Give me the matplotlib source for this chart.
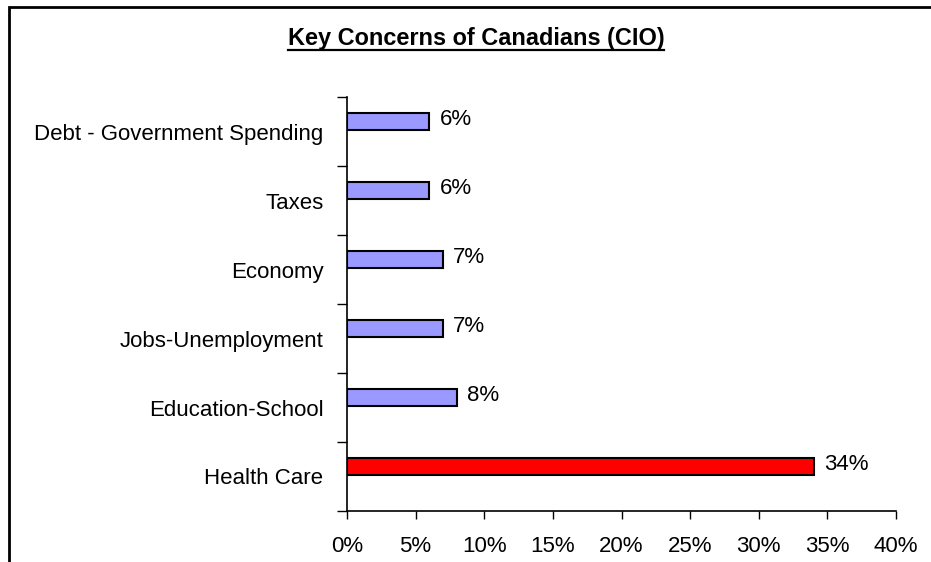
import numpy as np
import matplotlib.pyplot as plt
from matplotlib.patches import Rectangle
from matplotlib.ticker import FixedLocator, PercentFormatter

plt.rcParams['font.family'] = ['Liberation Sans', 'DejaVu Sans']

# bottom to top
categories = ['Health Care', 'Education-School', 'Jobs-Unemployment',
              'Economy', 'Taxes', 'Debt - Government Spending']
values = [34, 8, 7, 7, 6, 6]
bar_colors = ['#FF0000', '#9999FF', '#9999FF', '#9999FF', '#9999FF', '#9999FF']
x_ticks = [0, 5, 10, 15, 20, 25, 30, 35, 40]

W, H = 931, 562
fig = plt.figure(figsize=(W / 100, H / 100), dpi=100)
fig.patch.set_facecolor('white')

# outer chart border (runs off the right and bottom edges)
fig.patches.append(Rectangle((9 / W, -0.05), 1.2, 1 - 7 / H + 0.05,
                             transform=fig.transFigure, fill=False,
                             edgecolor='black', linewidth=2.0))

ax = fig.add_axes([347 / W, 1 - 511 / H, (896 - 347) / W, (511 - 97) / H])

y = np.arange(len(categories))
ax.barh(y + 0.145, values, height=0.26, color=bar_colors,
        edgecolor='black', linewidth=1.5)

for yi, v in zip(y, values):
    ax.text(v + 0.75, yi + 0.17, f'{v}%', va='center', ha='left', fontsize=16)

ax.set_xlim(0, 40)
ax.set_ylim(-0.5, len(categories) - 0.5)

ax.set_xticks(x_ticks)
ax.xaxis.set_major_formatter(PercentFormatter(decimals=0))
ax.tick_params(axis='x', length=6, width=1, direction='out', pad=12, labelsize=16)

ax.set_yticks(y)
ax.set_yticklabels(categories)
ax.tick_params(axis='y', which='major', length=0, pad=17, labelsize=16)
ax.yaxis.set_minor_locator(FixedLocator(np.arange(len(categories) + 1) - 0.5))
ax.tick_params(axis='y', which='minor', length=7, width=1, direction='out')

for side in ('top', 'right'):
    ax.spines[side].set_visible(False)
for side in ('left', 'bottom'):
    ax.spines[side].set_linewidth(1.2)

t = fig.text(476 / W, 1 - 38 / H, 'Key Concerns of Canadians (CIO)',
             ha='center', va='center', fontsize=16.9, fontweight='bold')
# underline under the title
fig.canvas.draw()
bb = t.get_window_extent()
fig.add_artist(plt.Line2D([bb.x0 / W, bb.x1 / W], [1 - 50 / H, 1 - 50 / H],
                          transform=fig.transFigure, color='black', linewidth=1.6))

fig.savefig('out.png', dpi=100)
